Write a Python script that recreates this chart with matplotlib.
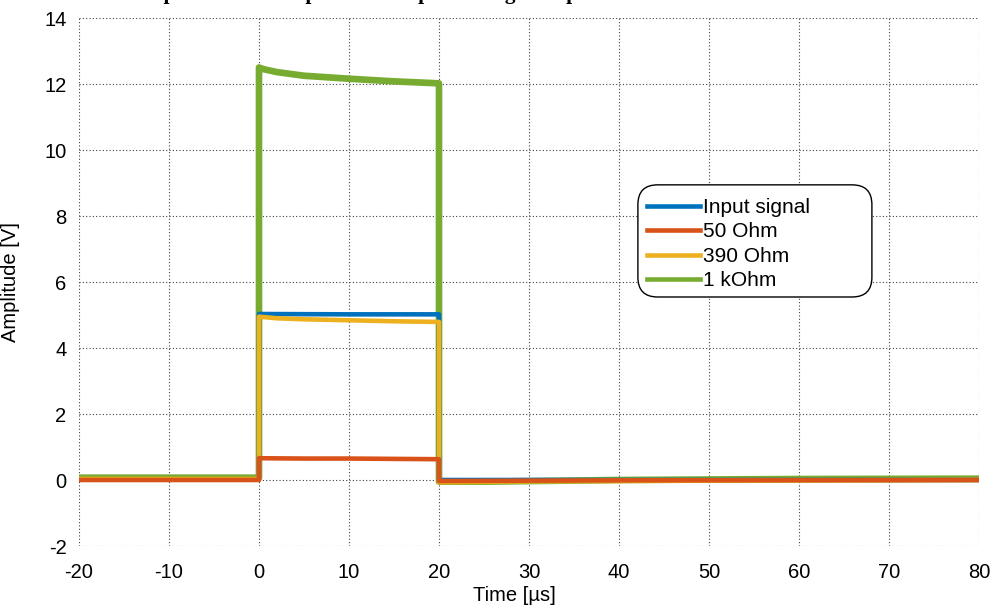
import matplotlib
matplotlib.use("Agg")
import matplotlib.pyplot as plt
from matplotlib.lines import Line2D
from matplotlib.patches import FancyBboxPatch

plt.rcParams['font.family'] = ['Liberation Sans', 'DejaVu Sans']
plt.rcParams['axes.unicode_minus'] = False

# time axis in microseconds, values in volts
t_input = [-20, 0, 0, 10, 20, 20, 80]
v_input = [0.02, 0.02, 5.03, 5.02, 5.02, 0.0, 0.0]

t_50 = [-20, 0, 0, 5, 10, 15, 20, 20, 40, 80]
v_50 = [0.0, 0.0, 0.66, 0.65, 0.65, 0.64, 0.63, -0.03, -0.01, 0.0]

t_390 = [-20, 0, 0, 2, 5, 10, 15, 20, 20, 30, 50, 80]
v_390 = [0.03, 0.03, 4.95, 4.90, 4.87, 4.84, 4.81, 4.79, -0.07, -0.04, -0.02, 0.0]

t_1k = [-20, 0, 0, 0.5, 2, 5, 10, 15, 20, 20, 25, 40, 60, 80]
v_1k = [0.07, 0.07, 12.5, 12.45, 12.36, 12.25, 12.16, 12.08, 12.02, -0.05, -0.05, 0.0, 0.03, 0.04]

labels = ["Input signal", "50 Ohm", "390 Ohm", "1 kOhm"]
colors = ["#0072BD", "#D95319", "#EDB120", "#77AC30"]

x_ticks = list(range(-20, 81, 10))
y_ticks = list(range(-2, 15, 2))

fig = plt.figure(figsize=(9.91, 6.06), dpi=100)
ax = fig.add_axes([79/991, 60/606, 900/991, 528/606])

ax.plot(t_1k, v_1k, color=colors[3], lw=4.8, zorder=2)
ax.plot(t_input, v_input, color=colors[0], lw=3.3, zorder=3)
ax.plot(t_390, v_390, color=colors[2], lw=3.3, zorder=4)
ax.plot(t_50, v_50, color=colors[1], lw=3.3, zorder=5)

ax.set_xlim(-20, 80)
ax.set_ylim(-2, 14)
ax.set_xticks(x_ticks)
ax.set_yticks(y_ticks)
ax.tick_params(axis='x', length=0, pad=12, labelsize=14.5)
ax.tick_params(axis='y', length=0, pad=9, labelsize=14.5)
ax.grid(True, color='0.25', lw=0.8, linestyle=(0, (1, 2)))
ax.set_axisbelow(True)
for s in ax.spines.values():
    s.set_visible(False)

ax.set_xlabel("Time [µs]", fontsize=14.5)
ax.xaxis.set_label_coords(0.484, -0.075)
ax.set_ylabel("Amplitude [V]", fontsize=14.5)
ax.yaxis.set_label_coords(-0.065, 0.5)

# legend: rounded box drawn separately, entries without frame
box = FancyBboxPatch((0.621, 0.4716), 0.26, 0.2124,
                     boxstyle="round,pad=0,rounding_size=0.022",
                     mutation_aspect=900/528, transform=ax.transAxes,
                     facecolor='white', edgecolor='black', lw=1.0, zorder=6)
ax.add_patch(box)
handles = [Line2D([], [], color=c, lw=3.3) for c in colors]
leg = ax.legend(handles, labels, loc='upper left', bbox_to_anchor=(0.631, 0.659),
                frameon=False, fontsize=15, borderpad=0, labelspacing=0.26,
                handlelength=2.55, handletextpad=0.15, borderaxespad=0)
leg.set_zorder(7)

# title sits mostly above the figure edge, only descenders show
fig.text(41/991, 1 + 1/606, "Measured response of the amplifier at output during an input of 5 V",
         ha='left', va='baseline', fontsize=15.3, fontweight='bold',
         family=['Liberation Serif', 'DejaVu Serif'])

fig.savefig("out.png", dpi=100)
